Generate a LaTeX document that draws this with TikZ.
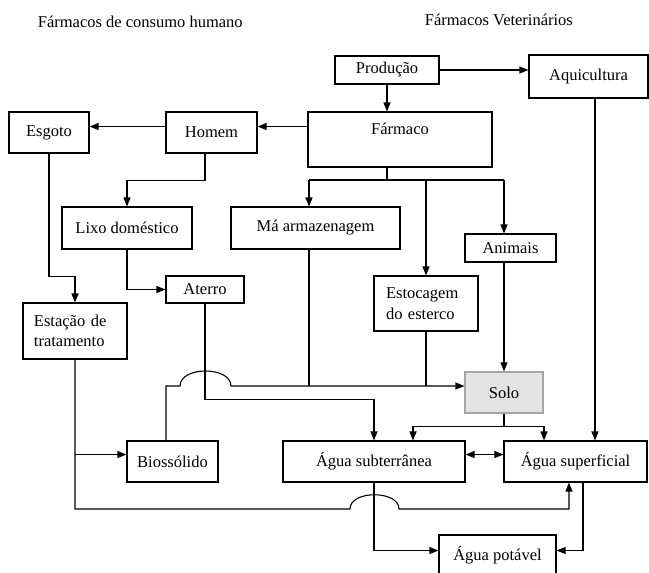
\documentclass[tikz,border=0pt]{standalone}
\usepackage{fontspec}
\setmainfont{Liberation Serif}
\usetikzlibrary{arrows.meta}

\begin{document}
\begin{tikzpicture}[x=1pt, y=-1pt, line width=1.1pt,
  font=\fontsize{16.5}{20.5}\selectfont,
  >={Triangle[length=9pt,width=7pt]},
  box/.style={draw, inner sep=0pt},
  solobox/.style={box, fill=gray!22, draw=gray!70}]
  \useasboundingbox (0,0) rectangle (649,573);
  \clip (0,0) rectangle (649,573);

  % titles
  \node[anchor=west] (thum) at (34,22) {Fármacos de consumo humano};
  \node[anchor=west] (tvet) at (421,20) {Fármacos Veterinários};

  % boxes
  \node[box, minimum width=104pt, minimum height=28pt] (prod) at (387,70) {Produção};
  \node[box, minimum width=119pt, minimum height=43pt] (aqui) at (588.5,76.5) {Aquicultura};
  \node[box, minimum width=184pt, minimum height=55pt] (farm) at (400,139.5) {};
  \node[anchor=north] (farmtxt) at ([yshift=-8pt]farm.north) {Fármaco};
  \node[box, minimum width=80pt, minimum height=41pt] (esg) at (49,132.5) {Esgoto};
  \node[box, minimum width=91pt, minimum height=41pt] (hom) at (211.5,132.5) {Homem};
  \node[box, minimum width=130pt, minimum height=42pt] (lixo) at (127,228) {Lixo doméstico};
  \node[box, minimum width=169pt, minimum height=42pt] (ma) at (315.5,228) {Má armazenagem};
  \node[box, minimum width=91pt, minimum height=28pt] (anim) at (510.5,248) {Animais};
  \node[box, minimum width=78pt, minimum height=27pt] (ater) at (205,289.5) {Aterro};
  \node[box, minimum width=104pt, minimum height=55pt, text width=80pt, align=left] (esto) at (426,303.5) {Estocagem\\do esterco};
  \node[box, minimum width=104pt, minimum height=56pt, text width=82pt, align=left] (est) at (75,331) {Estação de\\tratamento};
  \node[solobox, minimum width=78pt, minimum height=41pt] (solo) at (504,392.5) {Solo};
  \node[box, minimum width=91pt, minimum height=41pt] (bio) at (172.5,461.5) {Biossólido};
  \node[box, minimum width=182pt, minimum height=41pt] (asub) at (374,461.5) {Água subterrânea};
  \node[box, minimum width=143pt, minimum height=41pt] (asup) at (575.5,461.5) {Água superficial};
  \node[box, minimum width=117pt, minimum height=41pt] (apot) at (497.5,555.5) {Água potável};

  % producao
  \draw[->] (prod.south) -- (prod.south |- farm.north);
  \draw[->] (prod.east) -- (prod.east -| aqui.west);

  % consumo humano
  \draw[->] ([yshift=6pt]hom.east -| farm.west) -- ([yshift=6pt]hom.east);
  \draw[->] ([yshift=6pt]hom.west) -- ([yshift=6pt]hom.west -| esg.east);
  \draw[->] ([xshift=-6.5pt]hom.south) -- ++(0,27) -| (lixo.north);
  \draw[->] (esg.south) -- ++(0,123) -| (est.north);
  \draw[->] (lixo.south) |- (ater.west);

  % farmaco para baixo
  \coordinate (fj) at (387,180);
  \draw (prod.south |- farm.south) -- (fj);
  \draw ([xshift=-6.5pt]ma.north |- fj) -- (solo.north |- fj);
  \draw[->] ([xshift=-6.5pt]ma.north |- fj) -- ([xshift=-6.5pt]ma.north);
  \draw[->] (esto.north |- fj) -- (esto.north);
  \draw[->] (solo.north |- fj) -- (solo.north |- anim.north);
  \draw[->] (solo.north |- anim.south) -- (solo.north);

  % para o solo
  \coordinate (j1a) at (180,386);
  \coordinate (j1b) at (231,386);
  \draw[->] ([xshift=-6.5pt]bio.north) |- (j1a)
    .. controls ([yshift=20pt]j1a) and ([yshift=20pt]j1b) .. (j1b)
    -- ([yshift=6.5pt]solo.west);
  \draw ([xshift=-6.5pt]ma.south) -- ([xshift=-6.5pt]ma.south |- j1b);
  \draw (esto.south) -- (esto.south |- j1b);

  % aterro
  \draw[->] (ater.south) -- ++(0,96) -| (asub.north);

  % aguas
  \draw (solo.south) -- ++(0,13) coordinate (sj);
  \draw[->] (sj) -| ([xshift=39pt]asub.north);
  \draw[->] (sj) -| ([xshift=-31.5pt]asup.north);
  \draw[->] ([xshift=6.5pt]aqui.south) -- ([xshift=6.5pt]aqui.south |- asup.north);
  \draw[<->] ([yshift=7pt]asub.east) -- ([yshift=7pt]asub.east -| asup.west);
  \draw[->] (asub.south) |- ([yshift=5pt]apot.west);
  \draw[->] ([xshift=7.5pt]asup.south) |- ([yshift=5pt]apot.east);

  % estacao de tratamento
  \coordinate (j2a) at (350,509);
  \coordinate (j2b) at (399,509);
  \draw[->] (est.south) |- (j2a)
    .. controls ([yshift=19pt]j2a) and ([yshift=19pt]j2b) .. (j2b)
    -| ([xshift=-6.5pt]asup.south);
  \draw[->] ([yshift=7pt]bio.west -| est.south) -- ([yshift=7pt]bio.west);
\end{tikzpicture}
\end{document}
